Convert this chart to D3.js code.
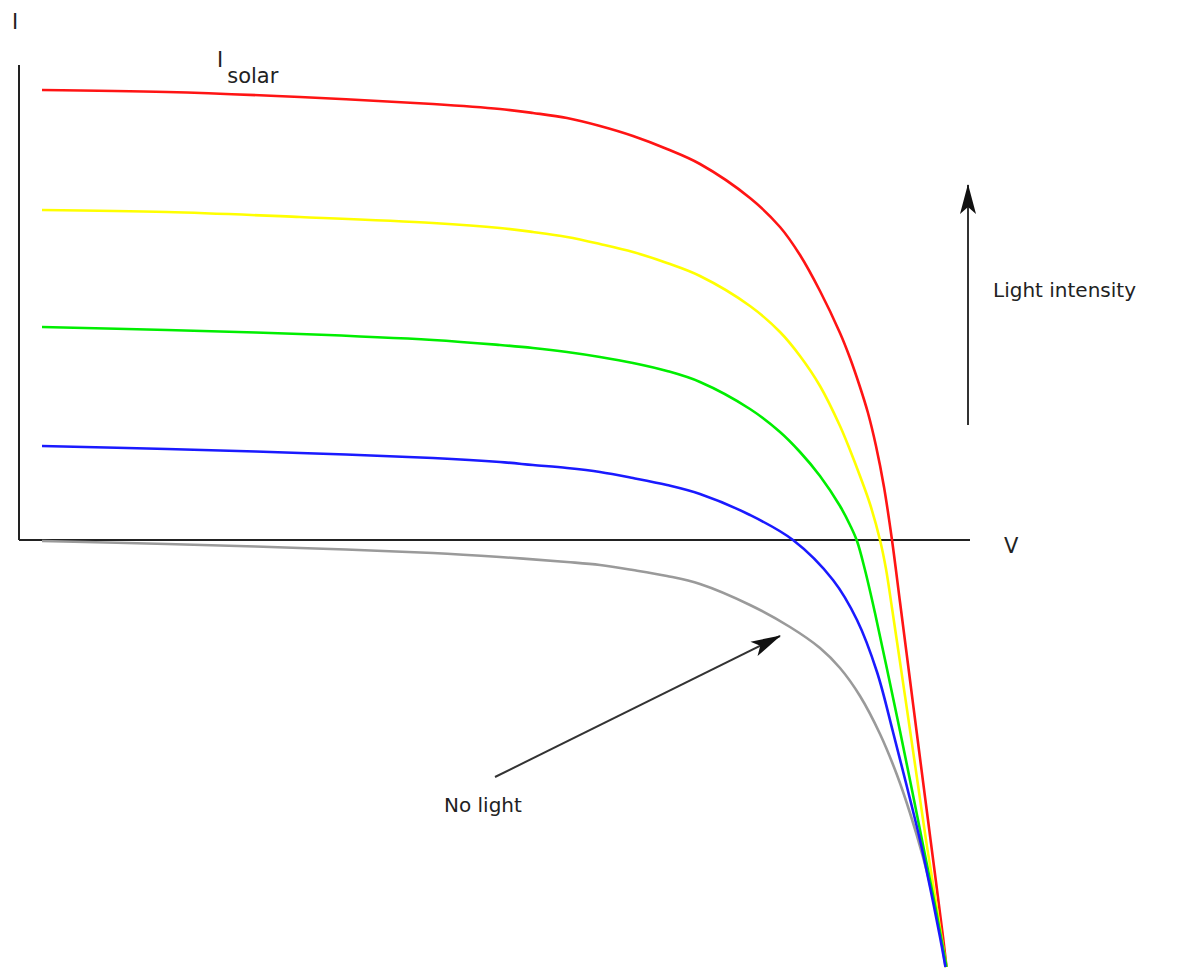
<!DOCTYPE html>
<html>
<head>
<meta charset="utf-8">
<script src="https://cdn.jsdelivr.net/npm/d3@7"></script>
<style>
  html, body { margin: 0; padding: 0; background: #fff; }
  svg { display: block; }
  text { font-family: "DejaVu Sans", Verdana, sans-serif; fill: #222; }
</style>
</head>
<body>
<svg id="chart" width="1187" height="970"></svg>
<script>
// Solar cell I–V characteristics at decreasing light intensity (V in volts, I in mA)
const voltsRed    = [0.023, 0.148, 0.281, 0.414, 0.481, 0.514, 0.548, 0.581, 0.614, 0.648, 0.681, 0.731, 0.761, 0.781, 0.801, 0.821, 0.831, 0.841, 0.849, 0.857, 0.865, 0.873, 0.881, 0.891, 0.901, 0.909, 0.917, 0.924, 0.9275];
const currentRed  = [45.0, 44.8, 44.3, 43.6, 43.1, 42.7, 42.2, 41.4, 40.4, 39.1, 37.6, 34.2, 31.3, 28.5, 24.9, 20.7, 18.2, 15.3, 12.7, 9.4, 5.3, 0, -6.2, -14.0, -21.8, -28.0, -34.2, -39.7, -42.7];

const voltsYellow   = [0.023, 0.148, 0.281, 0.414, 0.481, 0.514, 0.548, 0.581, 0.614, 0.648, 0.681, 0.731, 0.761, 0.781, 0.801, 0.821, 0.831, 0.841, 0.851, 0.861, 0.867, 0.873, 0.881, 0.891, 0.899, 0.907, 0.915, 0.921, 0.9275];
const currentYellow = [33.0, 32.8, 32.3, 31.7, 31.2, 30.8, 30.3, 29.6, 28.8, 27.7, 26.4, 23.4, 20.8, 18.4, 15.4, 11.4, 9.0, 6.4, 3.6, 0, -2.9, -6.8, -12.2, -19.0, -24.5, -30.0, -35.0, -38.8, -42.7];

const voltsGreen   = [0.023, 0.148, 0.281, 0.414, 0.481, 0.514, 0.548, 0.581, 0.614, 0.648, 0.681, 0.731, 0.761, 0.781, 0.801, 0.821, 0.831, 0.838, 0.846, 0.856, 0.868, 0.881, 0.894, 0.906, 0.916, 0.922, 0.9275];
const currentGreen = [21.3, 21.0, 20.6, 20.0, 19.5, 19.2, 18.8, 18.3, 17.7, 16.9, 15.8, 13.1, 10.8, 8.8, 6.4, 3.4, 1.5, -0.1, -3.0, -7.3, -12.9, -19.1, -25.5, -31.5, -36.5, -39.7, -42.7];

const voltsBlue   = [0.023, 0.148, 0.281, 0.414, 0.481, 0.514, 0.548, 0.581, 0.614, 0.648, 0.681, 0.731, 0.774, 0.814, 0.838, 0.858, 0.874, 0.888, 0.901, 0.911, 0.921, 0.9265];
const currentBlue = [9.4, 9.1, 8.7, 8.2, 7.8, 7.5, 7.2, 6.8, 6.2, 5.5, 4.6, 2.5, 0, -4.0, -8.0, -13.2, -19.2, -24.7, -30.0, -34.7, -39.7, -42.7];

const voltsDark   = [0.023, 0.148, 0.281, 0.414, 0.481, 0.548, 0.581, 0.614, 0.648, 0.681, 0.731, 0.771, 0.801, 0.821, 0.841, 0.861, 0.878, 0.891, 0.904, 0.914, 0.921, 0.9265];
const currentDark = [-0.1, -0.4, -0.8, -1.3, -1.7, -2.2, -2.5, -3.0, -3.6, -4.4, -6.5, -8.7, -10.8, -12.8, -15.6, -19.4, -23.5, -27.3, -31.7, -35.7, -39.2, -42.7];

const seriesNames  = ["red", "yellow", "green", "blue", "dark"];
const seriesColors = ["#ff1414", "#ffff00", "#00ee00", "#1a1aff", "#9a9a9a"];
const seriesVolts  = [voltsRed, voltsYellow, voltsGreen, voltsBlue, voltsDark];
const seriesAmps   = [currentRed, currentYellow, currentGreen, currentBlue, currentDark];

const axisLabels = { current: "I", voltage: "V" };
const noteLight = "Light intensity";
const noteDark = "No light";

const svg = d3.select("#chart");

const x = d3.scaleLinear().domain([0, 0.951]).range([19, 970]);
const y = d3.scaleLinear().domain([-43, 47.5]).range([970, 65]);

const line = d3.line()
  .x(d => x(d[0]))
  .y(d => y(d[1]))
  .curve(d3.curveCatmullRom.alpha(0.5));

// Axes: plain lines through the origin, no ticks
svg.append("line")
  .attr("x1", x(0)).attr("y1", y(0))
  .attr("x2", x(0)).attr("y2", y(47.5))
  .attr("stroke", "#222").attr("stroke-width", 2);
svg.append("line")
  .attr("x1", x(0)).attr("y1", y(0))
  .attr("x2", x(0.951)).attr("y2", y(0))
  .attr("stroke", "#222").attr("stroke-width", 2);

// Curves, dark curve first so the lit curves sit on top
const order = [4, 0, 1, 2, 3];
order.forEach(i => {
  const pts = seriesVolts[i].map((v, k) => [v, seriesAmps[i][k]]);
  svg.append("path")
    .datum(pts)
    .attr("class", "curve-" + seriesNames[i])
    .attr("d", line)
    .attr("fill", "none")
    .attr("stroke", seriesColors[i])
    .attr("stroke-width", 2.6)
    .attr("stroke-linejoin", "round");
});

// Arrow heads
const defs = svg.append("defs");
defs.append("marker")
  .attr("id", "head")
  .attr("viewBox", "0 0 30 18")
  .attr("refX", 29).attr("refY", 9)
  .attr("markerWidth", 30).attr("markerHeight", 18)
  .attr("markerUnits", "userSpaceOnUse")
  .attr("orient", "auto")
  .append("path")
  .attr("d", "M0,1 L30,9 L0,17 L7,9 Z")
  .attr("fill", "#111");

// Light-intensity arrow (upwards)
svg.append("line")
  .attr("x1", 968).attr("y1", 425)
  .attr("x2", 968).attr("y2", 185)
  .attr("stroke", "#333").attr("stroke-width", 2)
  .attr("marker-end", "url(#head)");

// Arrow pointing at the dark curve
svg.append("line")
  .attr("x1", 495).attr("y1", 777)
  .attr("x2", 780).attr("y2", 636)
  .attr("stroke", "#333").attr("stroke-width", 2)
  .attr("marker-end", "url(#head)");

// Labels
svg.append("text")
  .attr("x", 12).attr("y", 29)
  .attr("font-size", 21)
  .text(axisLabels.current);

svg.append("text")
  .attr("x", 1004).attr("y", 553)
  .attr("font-size", 21)
  .text(axisLabels.voltage);

const iso = svg.append("text")
  .attr("x", 217).attr("y", 67)
  .attr("font-size", 21);
iso.append("tspan").text("I");
iso.append("tspan").attr("dx", 4).attr("dy", 16).text("solar");

svg.append("text")
  .attr("x", 993).attr("y", 297)
  .attr("font-size", 20)
  .text(noteLight);

svg.append("text")
  .attr("x", 444).attr("y", 812)
  .attr("font-size", 20)
  .text(noteDark);
</script>
</body>
</html>
